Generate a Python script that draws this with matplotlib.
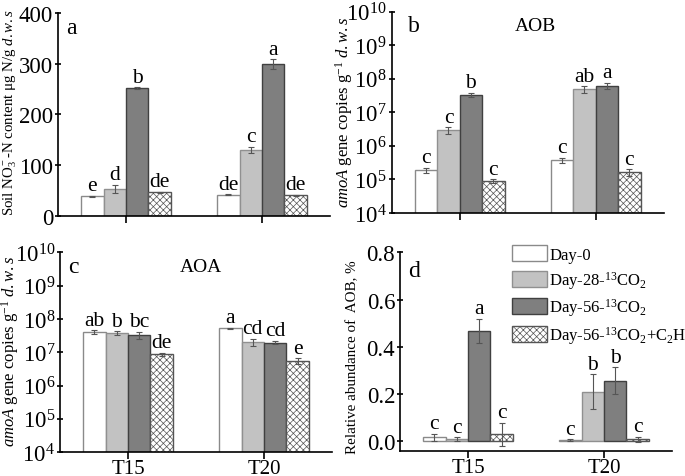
import matplotlib
matplotlib.use('Agg')
import matplotlib.pyplot as plt
import numpy as np

plt.rcParams['font.family'] = ['Liberation Serif', 'DejaVu Serif']
plt.rcParams['mathtext.fontset'] = 'custom'
plt.rcParams['mathtext.rm'] = 'Liberation Serif'
plt.rcParams['mathtext.it'] = 'Liberation Serif:italic'
plt.rcParams['hatch.linewidth'] = 0.5

groups = ['T15', 'T20']
series = ['Day-0', r'Day-28-$^{13}$CO$_2$', r'Day-56-$^{13}$CO$_2$',
          r'Day-56-$^{13}$CO$_2$+C$_2$H$_2$']

# rows = series, columns = T15, T20
nitrate = [[38, 41], [52.6, 129.6], [252, 298.7], [46, 40.8]]
nitrate_err = [[1, 1], [8, 6], [1.5, 10], [1, 1]]
nitrate_sig = [['e', 'de'], ['d', 'c'], ['b', 'a'], ['de', 'de']]

aob = [[1.9e5, 3.7e5], [2.9e6, 4.9e7], [3.3e7, 6.2e7], [9.0e4, 1.65e5]]
aob_err = [[0.3e5, 0.7e5], [0.7e6, 1.0e7], [0.5e7, 1.2e7], [1.0e4, 0.35e5]]
aob_sig = [['c', 'c'], ['c', 'ab'], ['b', 'a'], ['c', 'c']]

aoa = [[4.0e7, 5.3e7], [3.7e7, 2.0e7], [3.3e7, 1.95e7], [8.7e6, 5.5e6]]
aoa_err = [[0.5e7, 0.2e7], [0.5e7, 0.5e7], [0.8e7, 0.2e7], [1.0e6, 1.0e6]]
aoa_sig = [['ab', 'a'], ['b', 'cd'], ['bc', 'cd'], ['de', 'e']]

rel = [[0.017, 0.0056], [0.0084, 0.21], [0.467, 0.257], [0.029, 0.0084]]
rel_err = [[0.015, 0.003], [0.008, 0.073], [0.05, 0.056], [0.05, 0.011]]
rel_sig = [['c', 'c'], ['c', 'b'], ['a', 'b'], ['c', 'c']]

faces = ['white', '#c2c2c2', '#7f7f7f', 'white']
edges = ['#8a8a8a', '#909090', '#404040', '#555555']
hatches = [None, None, None, 'xxxxx']

fig = plt.figure(figsize=(6.85, 4.77), dpi=100)
ax_a = fig.add_axes([0.0847, 0.5457, 0.397, 0.4249])
ax_b = fig.add_axes([0.5718, 0.5514, 0.397, 0.4220])
ax_c = fig.add_axes([0.0876, 0.0500, 0.397, 0.4190])
ax_d = fig.add_axes([0.5840, 0.0520, 0.397, 0.4170])

x = np.arange(len(groups))
w = 0.165


def draw(ax, vals, errs, sigs, log=False):
    for i in range(len(series)):
        pos = x + (i - 1.5) * w
        ax.bar(pos, vals[i], w, color=faces[i], edgecolor=edges[i],
               hatch=hatches[i], linewidth=1.0, label=series[i], zorder=2)
        ax.errorbar(pos, vals[i], yerr=errs[i], fmt='none', ecolor='#555555',
                    elinewidth=0.8, capsize=2, capthick=0.8, zorder=3)
        for j in range(len(groups)):
            ax.annotate(sigs[i][j], (pos[j], vals[i][j] + errs[i][j]),
                        xytext=(0, 0.5), textcoords='offset points',
                        ha='center', va='bottom', fontsize=15.5)
    ax.set_xlim(-0.5, 1.5)
    ax.set_xticks(x)
    for s in ['top', 'right']:
        ax.spines[s].set_visible(False)
    for s in ['left', 'bottom']:
        ax.spines[s].set_linewidth(1.2)
    ax.tick_params(axis='x', direction='out', length=5, width=1.2,
                   labelsize=15, pad=0)
    ax.tick_params(axis='y', direction='inout', length=5, width=1.2,
                   labelsize=16.5, pad=1)
    if log:
        ax.set_yscale('log')
        ax.set_ylim(1e4, 1e10)
        ax.set_yticks([10.0 ** k for k in range(4, 11)])
        ax.minorticks_off()


draw(ax_a, nitrate, nitrate_err, nitrate_sig)
ax_a.set_ylim(0, 400)
ax_a.set_yticks([0, 100, 200, 300, 400])
ax_a.set_xticklabels([])
ax_a.set_ylabel(r'Soil NO$_3^-$-N content μg N/g $\it{d.w.s}$', fontsize=10.7)
ax_a.yaxis.set_label_coords(-0.143, 0.515)
ax_a.text(0.03, 0.93, 'a', transform=ax_a.transAxes, fontsize=17, va='center')

draw(ax_b, aob, aob_err, aob_sig, log=True)
ax_b.set_xticklabels([])
ax_b.set_ylabel(r'$\it{amoA}$ gene copies g$^{-1}$ $\it{d.w.s}$', fontsize=12)
ax_b.yaxis.set_label_coords(-0.135, 0.505)
ax_b.text(0.06, 0.93, 'b', transform=ax_b.transAxes, fontsize=17, va='center')
ax_b.text(0.53, 0.93, 'AOB', transform=ax_b.transAxes, fontsize=14,
          ha='center', va='center')

draw(ax_c, aoa, aoa_err, aoa_sig, log=True)
ax_c.set_xticklabels(groups)
ax_c.set_ylabel(r'$\it{amoA}$ gene copies g$^{-1}$ $\it{d.w.s}$', fontsize=12)
ax_c.yaxis.set_label_coords(-0.144, 0.51)
ax_c.text(0.03, 0.93, 'c', transform=ax_c.transAxes, fontsize=17, va='center')
ax_c.text(0.52, 0.93, 'AOA', transform=ax_c.transAxes, fontsize=14,
          ha='center', va='center')

draw(ax_d, rel, rel_err, rel_sig)
ax_d.set_ylim(-0.042, 0.8)
ax_d.set_yticks([0.0, 0.2, 0.4, 0.6, 0.8])
ax_d.set_yticklabels(['0.0', '0.2', '0.4', '0.6', '0.8'])
ax_d.set_xticklabels(groups)
ax_d.set_ylabel('Relative abundance of  AOB, %', fontsize=10.8)
ax_d.yaxis.set_label_coords(-0.151, 0.48)
ax_d.text(0.03, 0.91, 'd', transform=ax_d.transAxes, fontsize=17, va='center')
ax_d.legend(loc='upper left', bbox_to_anchor=(0.41, 1.035), frameon=False,
            fontsize=12, handlelength=2.15, handleheight=1.1,
            handletextpad=0.1, labelspacing=0.35, borderaxespad=0,
            borderpad=0)

fig.savefig('out.png', dpi=100)
